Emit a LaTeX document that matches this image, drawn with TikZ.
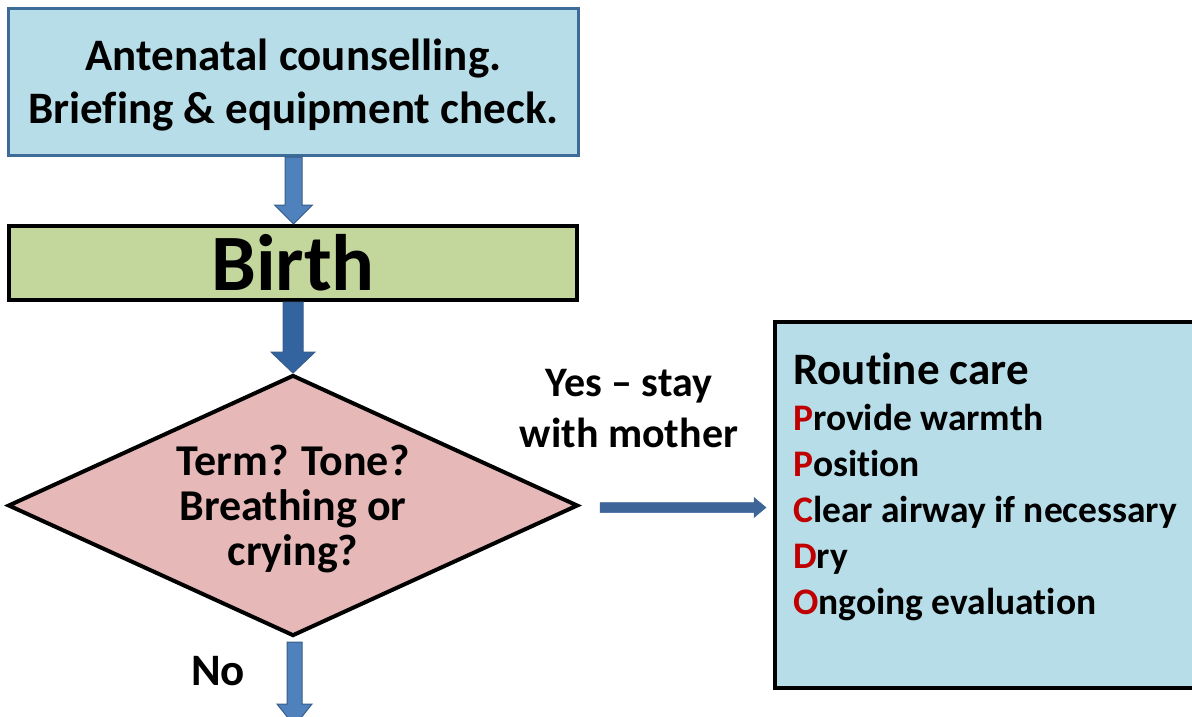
\documentclass[tikz,border=0pt]{standalone}
\usepackage{fontspec}
\setmainfont[Ligatures={NoCommon}]{Carlito}
\usetikzlibrary{shapes.geometric,calc}

\definecolor{boxblue}{HTML}{B7DDE8}
\definecolor{boxline}{HTML}{3E6C99}
\definecolor{birthgreen}{HTML}{C3D69B}
\definecolor{decisionpink}{HTML}{E6B9B8}
\definecolor{arrowfill}{HTML}{4F81BD}
\definecolor{arrowdark}{HTML}{3464A0}
\definecolor{arrowline}{HTML}{385D8A}
\definecolor{yesarrow}{HTML}{3D6597}
\definecolor{keyred}{HTML}{C00000}

% vertical block arrow: start, tip, half shaft, half head, head length
\newcommand{\vblock}[6]{%
  \filldraw[#6] let \p1=(#1), \p2=(#2) in
    (\x1-#3,\y1) -- (\x1-#3,\y2+#5) -- (\x1-#4,\y2+#5) -- (\x1,\y2)
    -- (\x1+#4,\y2+#5) -- (\x1+#3,\y2+#5) -- (\x1+#3,\y1) -- cycle;}
% horizontal block arrow pointing right
\newcommand{\hblock}[6]{%
  \filldraw[#6] let \p1=(#1), \p2=(#2) in
    (\x1,\y1-#3) -- (\x2-#5,\y1-#3) -- (\x2-#5,\y1-#4) -- (\x2,\y1)
    -- (\x2-#5,\y1+#4) -- (\x2-#5,\y1+#3) -- (\x1,\y1+#3) -- cycle;}

\tikzset{
  stepbox/.style={draw=black, line width=4pt, align=center, inner sep=0pt},
  boxtext/.style={align=center, inner sep=0pt},
  bluearrow/.style={fill=arrowfill, draw=arrowline, line width=1pt},
  darkarrow/.style={fill=arrowdark, draw=arrowline, line width=1pt},
  yesarrowstyle/.style={fill=yesarrow, draw=yesarrow, line width=0.5pt},
  labeltext/.style={font=\fontsize{42}{51}\selectfont\bfseries, align=center, inner sep=0pt},
}

\begin{document}
\begin{tikzpicture}[x=1pt, y=-1pt]
\useasboundingbox (0,0) rectangle (1192,716);
\clip (0,0) rectangle (1192,716);

% preparation box
\node[stepbox, draw=boxline, line width=3pt, fill=boxblue,
      minimum width=570pt, minimum height=147pt] (brief) at (293.5,82) {};
\node[boxtext, font=\fontsize{45}{53}\selectfont\bfseries] (brieftext)
  at ($(brief.center)+(0,3)$)
  {Antenatal counselling.\\Briefing \& equipment check.};

% birth
\node[stepbox, fill=birthgreen, minimum width=568pt, minimum height=74pt,
      font=\fontsize{80}{80}\selectfont\bfseries] (birth) at (293,263) {Birth};

% first assessment
\node[stepbox, shape=diamond, fill=decisionpink,
      minimum width=570pt, minimum height=261pt] (assess) at (293,505.5) {};
\node[boxtext, font=\fontsize{44}{45}\selectfont\bfseries] (assesstext)
  at ($(assess.center)+(0,4)$)
  {Term? Tone?\\Breathing or\\crying?};

% routine care
\node[stepbox, fill=boxblue, minimum width=440pt, minimum height=366pt]
  (routine) at (995,505) {};
\node[anchor=north west, align=left, inner sep=0pt,
      font=\fontsize{37.5}{46}\selectfont\bfseries]
  (steps) at ($(routine.north west)+(20,33)$)
  {{\fontsize{45}{46}\selectfont Routine care}\\
   \textcolor{keyred}{P}rovide warmth\\
   \textcolor{keyred}{P}osition\\
   \textcolor{keyred}{C}lear airway if necessary\\
   \textcolor{keyred}{D}ry\\
   \textcolor{keyred}{O}ngoing evaluation};

% connectors
\coordinate (noend) at (294.5,726);
\vblock{brief.south}{birth.north}{8.5pt}{19pt}{19pt}{bluearrow}
\vblock{birth.south}{assess.north}{10pt}{22pt}{21pt}{darkarrow}
\vblock{$(assess.south)+(1.5,4)$}{noend}{7.5pt}{17.5pt}{22pt}{bluearrow}
\hblock{$(assess.east)+(20,2)$}{$(routine.west)+(-7,0)$}{5pt}{10pt}{12pt}{yesarrowstyle}

% branch labels
\node[labeltext] (yes) at (629,409) {Yes -- stay\\with mother};
\node[labeltext, font=\fontsize{45}{45}\selectfont\bfseries] (no) at (218,671) {No};
\end{tikzpicture}
\end{document}
